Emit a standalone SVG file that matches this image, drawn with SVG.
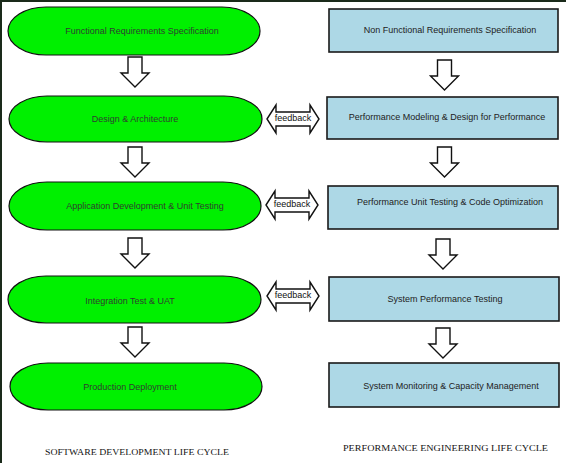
<svg xmlns="http://www.w3.org/2000/svg" width="566" height="463" viewBox="0 0 566 463">
<defs>
<style>
.stage{fill:#00f000;stroke:#111;stroke-width:1.2}
.box{fill:#add8e6;stroke:#1a1a1a;stroke-width:1.6}
.arrow{fill:#fff;stroke:#111;stroke-width:1.4;stroke-linejoin:miter}
.t{font-family:"Liberation Sans",Arial,sans-serif;font-size:9px;fill:#2f3f2f;text-anchor:middle;dominant-baseline:central}
.tr{font-family:"Liberation Sans",Arial,sans-serif;font-size:9px;fill:#222;text-anchor:middle;dominant-baseline:central}
.fb{font-family:"Liberation Sans",Arial,sans-serif;font-size:9px;fill:#111;text-anchor:middle;dominant-baseline:central}
.cap{font-family:"Liberation Serif","Times New Roman",serif;font-size:9px;fill:#111}
</style>
<path id="down" d="M-7,0 H7 V16 H14 L0,30 L-14,16 H-7 Z"/>
<path id="dbl" d="M0,0 L9,-14 V-7 H43 V-14 L52,0 L43,14 V7 H9 V14 Z"/>
</defs>
<path d="M1,463 V1 H566" fill="none" stroke="#1a2a1a" stroke-width="2"/>
<g id="sdlc1"><rect class="stage" x="8" y="7" width="252" height="48" rx="38" ry="24"/><text class="t" x="142" y="31">Functional Requirements Specification</text></g>
<g id="sdlc2"><rect class="stage" x="9" y="96" width="253" height="46" rx="38" ry="23"/><text class="t" x="135" y="119">Design &amp; Architecture</text></g>
<g id="sdlc3"><rect class="stage" x="9" y="182" width="252" height="48" rx="38" ry="24"/><text class="t" x="145" y="206">Application Development &amp; Unit Testing</text></g>
<g id="sdlc4"><rect class="stage" x="8" y="276" width="253" height="47" rx="38" ry="23.5"/><text class="t" x="130" y="301">Integration Test &amp; UAT</text></g>
<g id="sdlc5"><rect class="stage" x="10" y="363" width="252" height="47" rx="38" ry="23.5"/><text class="t" x="130" y="387">Production Deployment</text></g>
<g id="pelc1"><rect class="box" x="329" y="9" width="229" height="43"/><text class="tr" x="450" y="30">Non Functional Requirements Specification</text></g>
<g id="pelc2"><rect class="box" x="327" y="97" width="231" height="42"/><text class="tr" x="447" y="117">Performance Modeling &amp; Design for Performance</text></g>
<g id="pelc3"><rect class="box" x="328" y="186" width="230" height="43"/><text class="tr" x="450" y="202">Performance Unit Testing &amp; Code Optimization</text></g>
<g id="pelc4"><rect class="box" x="329" y="277" width="230" height="44"/><text class="tr" x="445" y="299">System Performance Testing</text></g>
<g id="pelc5"><rect class="box" x="329" y="363" width="230" height="44"/><text class="tr" x="451" y="386">System Monitoring &amp; Capacity Management</text></g>
<g id="connectors">
<use href="#down" class="arrow" transform="translate(135,57)"/>
<use href="#down" class="arrow" transform="translate(135,147)"/>
<use href="#down" class="arrow" transform="translate(135,238)"/>
<use href="#down" class="arrow" transform="translate(135,327)"/>
<use href="#down" class="arrow" transform="translate(444.5,60)"/>
<use href="#down" class="arrow" transform="translate(444.5,147)"/>
<use href="#down" class="arrow" transform="translate(443,239)"/>
<use href="#down" class="arrow" transform="translate(443,328)"/>
<use href="#dbl" class="arrow" transform="translate(267,119)"/>
<use href="#dbl" class="arrow" transform="translate(266,205)"/>
<use href="#dbl" class="arrow" transform="translate(267,296)"/>
<text class="fb" x="293" y="118">feedback</text>
<text class="fb" x="292" y="204">feedback</text>
<text class="fb" x="293" y="295">feedback</text>
</g>
<text class="cap" x="45" y="455" textLength="184" lengthAdjust="spacingAndGlyphs">SOFTWARE DEVELOPMENT LIFE CYCLE</text>
<text class="cap" x="343" y="451" textLength="205" lengthAdjust="spacingAndGlyphs">PERFORMANCE ENGINEERING LIFE CYCLE</text>
</svg>
